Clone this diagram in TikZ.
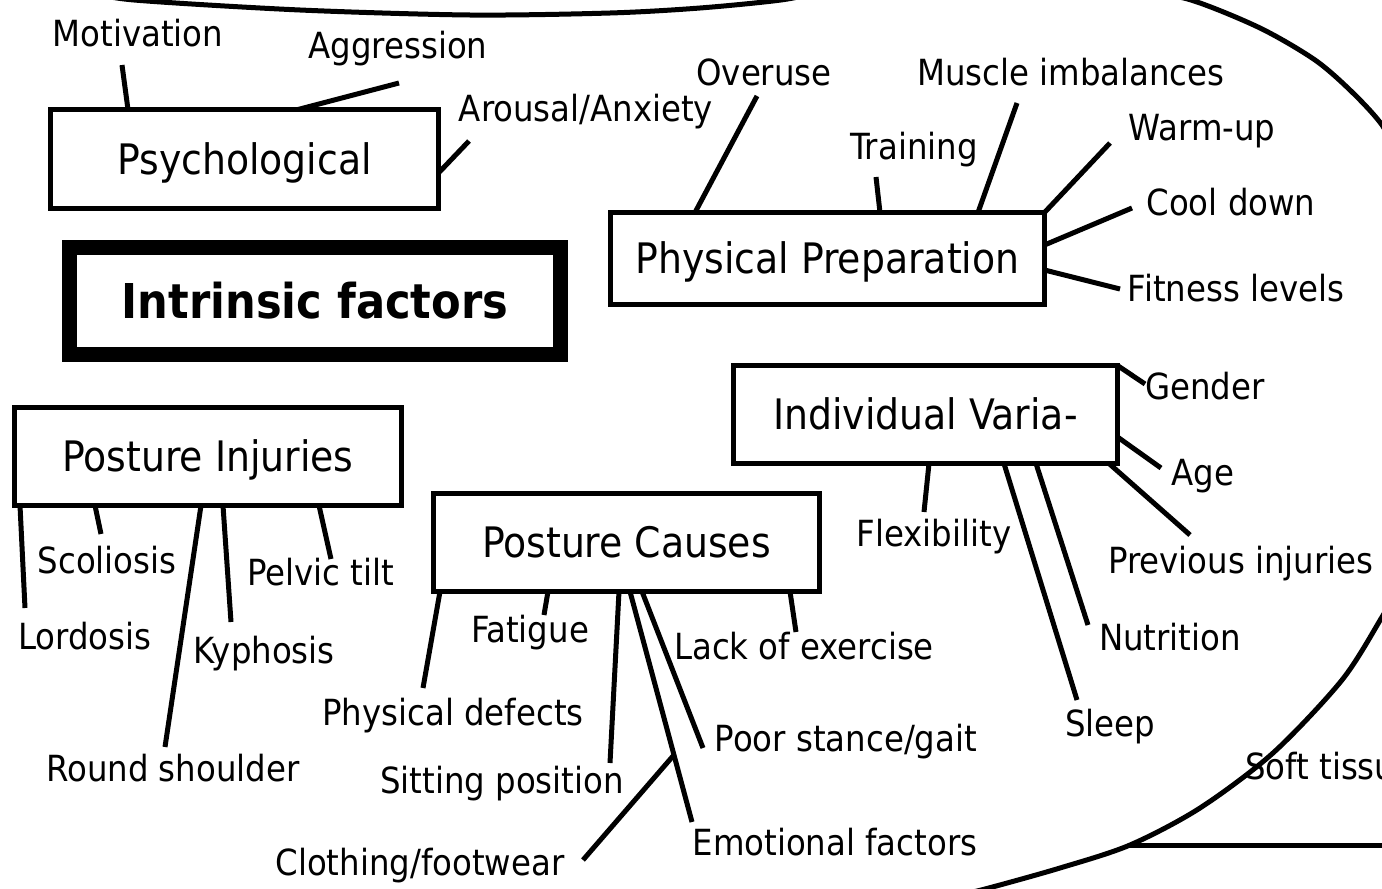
\documentclass[tikz,border=0pt]{standalone}
\usepackage{fontspec}
\setmainfont{DejaVu Sans Condensed}
\usetikzlibrary{calc}
\begin{document}
\begin{tikzpicture}[x=1pt,y=-1pt,
  conn/.style={line width=5pt},
  rim/.style={line width=5pt},
  box/.style={draw,line width=5pt,outer sep=0pt,inner sep=0pt,align=center,
    font=\fontsize{42}{48}\selectfont,text height=30pt,text depth=0pt},
  lab/.style={inner sep=0pt,font=\fontsize{36}{42}\selectfont,text height=26pt,text depth=0pt}]
\useasboundingbox (0,0) rectangle (1382,889);
\fill[white] (0,0) rectangle (1382,889);
% outer outlines
\begin{scope}
\clip (0,0) rectangle (1382,889);
\draw[rim] plot[smooth] coordinates {(90,-8) (134,0) (300,10) (470,15) (610,13) (700,8) (781,0) (820,-8)};
\draw[rim] plot[smooth] coordinates {(1130,-12) (1191,0) (1260,28) (1315,60) (1352,92) (1382,125) (1400,160)};
\draw[rim] plot[smooth] coordinates {(1400,585) (1382,617) (1342,680) (1273,753) (1200,808) (1130,845) (1060,868) (985,889) (950,897)};
\coordinate (st-a) at (1130,845);
\coordinate (st-b) at (1390,845);
\draw[rim] (st-a) -- (st-b);
\node[lab,anchor=west] (soft) at (1245,766) {Soft tissue};
\end{scope}
% boxes
\node[box,minimum width=388pt,minimum height=99pt] (psy) at (244.5,159) {Psychological};
\node[box,line width=15pt,minimum width=491pt,minimum height=107pt,
  font=\fontsize{48}{56}\selectfont\bfseries,text height=35pt] (intr) at (315,301) {Intrinsic factors};
\node[box,minimum width=434pt,minimum height=92pt] (pp) at (827.5,258.5) {Physical Preparation};
\node[box,minimum width=384pt,minimum height=98pt] (iv) at (925.5,414.5) {Individual Varia-};
\node[box,minimum width=387pt,minimum height=98pt] (pi) at (208,456.5) {Posture Injuries};
\node[box,minimum width=386pt,minimum height=98pt] (pc) at (626.5,542.5) {Posture Causes};
% labels
\node[lab] (mot) at (138,33) {Motivation};
\node[lab] (agg) at (398,45) {Aggression};
\node[lab] (aro) at (586,108) {Arousal/Anxiety};
\node[lab] (ovr) at (764,72) {Overuse};
\node[lab] (trn) at (914,146) {Training};
\node[lab] (msc) at (1071,72) {Muscle imbalances};
\node[lab] (wrm) at (1202,127) {Warm-up};
\node[lab] (cool) at (1231,202) {Cool down};
\node[lab] (fit) at (1236,288) {Fitness levels};
\node[lab] (gen) at (1205,386) {Gender};
\node[lab] (age) at (1203,472) {Age};
\node[lab] (prev) at (1241,560) {Previous injuries};
\node[lab] (flex) at (934,533) {Flexibility};
\node[lab] (nut) at (1170,637) {Nutrition};
\node[lab] (slp) at (1110,723) {Sleep};
\node[lab] (lor) at (85,636) {Lordosis};
\node[lab] (sco) at (107,560) {Scoliosis};
\node[lab] (rnd) at (173,768) {Round shoulder};
\node[lab] (kyp) at (264,650) {Kyphosis};
\node[lab] (pel) at (321,572) {Pelvic tilt};
\node[lab] (phd) at (453,712) {Physical defects};
\node[lab] (fat) at (530,629) {Fatigue};
\node[lab] (sit) at (502,780) {Sitting position};
\node[lab] (clo) at (420,862) {Clothing/footwear};
\node[lab] (emo) at (835,842) {Emotional factors};
\node[lab] (poor) at (846,738) {Poor stance/gait};
\node[lab] (lack) at (804,646) {Lack of exercise};
% connector free ends
\coordinate (e-mot) at (122,65);
\coordinate (e-agg) at (399,83);
\coordinate (e-aro) at (469,141);
\coordinate (e-ovr) at (757,96);
\coordinate (e-trn) at (876,177);
\coordinate (e-msc) at (1017,103);
\coordinate (e-wrm) at (1110,143);
\coordinate (e-cool) at (1132,208);
\coordinate (e-fit) at (1120,289);
\coordinate (e-gen) at (1145,384);
\coordinate (e-age) at (1161,468);
\coordinate (e-prev) at (1190,535);
\coordinate (e-flex) at (924,512);
\coordinate (e-nut) at (1088,625);
\coordinate (e-slp) at (1077,700);
\coordinate (e-lor) at (25,608);
\coordinate (e-sco) at (101,534);
\coordinate (e-rnd) at (165,747);
\coordinate (e-kyp) at (231,622);
\coordinate (e-pel) at (331,559);
\coordinate (e-phd) at (423,688);
\coordinate (e-fat) at (544,615);
\coordinate (e-sit) at (610,763);
\coordinate (e-emo) at (692,822);
\coordinate (e-poor) at (703,748);
\coordinate (e-lack) at (796,632);
\coordinate (e-clo) at (583,860);
% connectors
\draw[conn] ([xshift=77.5pt]psy.north west) -- (e-mot);
\draw[conn] ([xshift=247.5pt]psy.north west) -- (e-agg);
\draw[conn] ([yshift=-63.5pt]psy.north east) -- (e-aro);
\draw[conn] ([xshift=84.5pt]pp.north west) -- (e-ovr);
\draw[conn] ([xshift=269.5pt]pp.north west) -- (e-trn);
\draw[conn] ([xshift=367.5pt]pp.north west) -- (e-msc);
\draw[conn] (pp.north east) -- (e-wrm);
\draw[conn] ([yshift=-32.5pt]pp.north east) -- (e-cool);
\draw[conn] ([yshift=-57.5pt]pp.north east) -- (e-fit);
\draw[conn] (iv.north east) -- (e-gen);
\draw[conn] ([yshift=-71.5pt]iv.north east) -- (e-age);
\draw[conn] ([xshift=-8.5pt]iv.south east) -- (e-prev);
\draw[conn] ([xshift=195.5pt]iv.south west) -- (e-flex);
\draw[conn] ([xshift=302.5pt]iv.south west) -- (e-nut);
\draw[conn] ([xshift=270.5pt]iv.south west) -- (e-slp);
\draw[conn] ([xshift=5.5pt]pi.south west) -- (e-lor);
\draw[conn] ([xshift=80.5pt]pi.south west) -- (e-sco);
\draw[conn] ([xshift=186.5pt]pi.south west) -- (e-rnd);
\draw[conn] ([xshift=208.5pt]pi.south west) -- (e-kyp);
\draw[conn] ([xshift=304.5pt]pi.south west) -- (e-pel);
\draw[conn] ([xshift=6.5pt]pc.south west) -- (e-phd);
\draw[conn] ([xshift=114.5pt]pc.south west) -- (e-fat);
\draw[conn] ([xshift=185.5pt]pc.south west) -- (e-sit);
\coordinate (pce) at ([xshift=196.5pt]pc.south west);
\draw[conn] (pce) -- (e-emo);
\draw[conn] ([xshift=208.5pt]pc.south west) -- (e-poor);
\draw[conn] ([xshift=356.5pt]pc.south west) -- (e-lack);
\draw[conn] ($(pce)!0.709!(e-emo)$) -- (e-clo);
\end{tikzpicture}
\end{document}
